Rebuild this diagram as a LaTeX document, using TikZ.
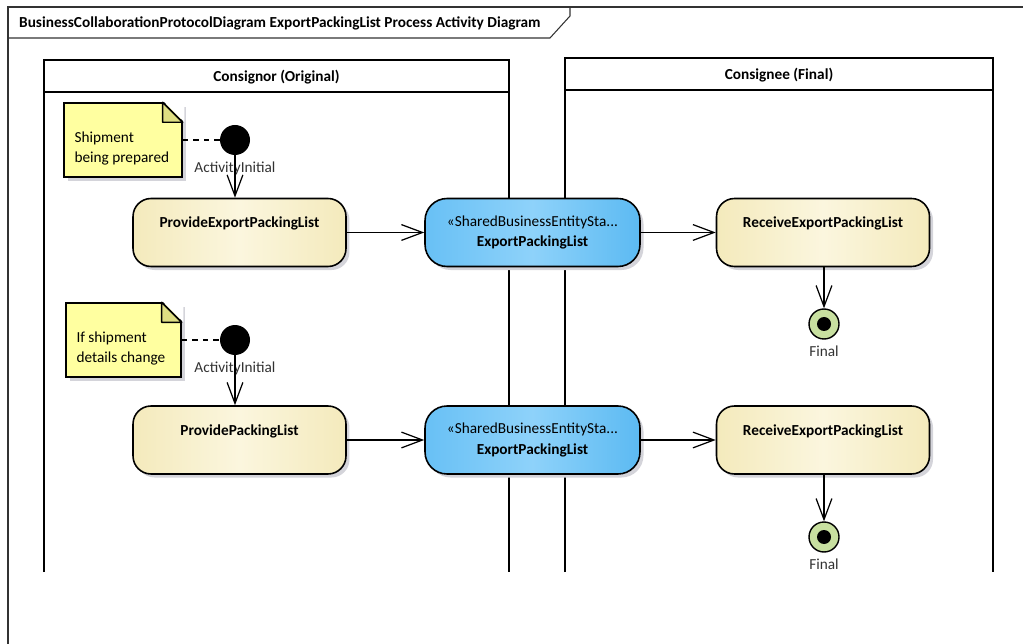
\documentclass[tikz,border=0pt]{standalone}
\usepackage{fontspec}
\setmainfont{Carlito}
\usetikzlibrary{arrows.meta,shadows}
\definecolor{notebg}{RGB}{255,255,160}
\definecolor{notefold}{RGB}{222,222,130}
\definecolor{actside}{RGB}{244,234,188}
\definecolor{actmid}{RGB}{251,246,222}
\definecolor{objleft}{RGB}{104,192,245}
\definecolor{objmid}{RGB}{142,210,250}
\definecolor{objright}{RGB}{92,186,242}
\definecolor{finalgreen}{RGB}{200,224,160}
\definecolor{shadowgray}{RGB}{212,212,218}
\definecolor{labelgray}{RGB}{50,50,50}
\newcommand{\dgfont}{\fontsize{8.7}{11.6}\selectfont}

\begin{document}
\begin{tikzpicture}[x=0.02cm,y=-0.02cm,font=\dgfont,
    frame/.style={draw=black!80,line width=0.6pt},
    lane/.style={draw=black,line width=1.1pt},
    flow/.style={draw=black,line width=0.7pt,-{Straight Barb[length=12pt,width=9pt,line width=0.7pt]}},
    shad/.style={drop shadow={shadow xshift=2pt,shadow yshift=-2pt,fill=shadowgray,opacity=1}},
    action/.style={rectangle,rounded corners=0.36cm,draw=black,line width=0.9pt,shad,
        minimum width=4.26cm,minimum height=1.36cm,
        left color=actside,right color=actside,middle color=actmid},
    obj/.style={rectangle,rounded corners=0.44cm,draw=black,line width=0.9pt,shad,align=center,
        minimum width=4.3cm,minimum height=1.36cm,
        left color=objleft,right color=objright,middle color=objmid},
    note/.style={rectangle,fill=notebg,draw=black,line width=0.8pt,shad,minimum height=1.48cm},
    initial/.style={circle,fill=black,minimum size=0.6cm,inner sep=0pt,
        label={[text=labelgray,inner sep=1pt,label distance=2.5pt]below:ActivityInitial}},
    final/.style={circle,draw=black,line width=0.8pt,fill=finalgreen,minimum size=0.6cm,inner sep=0pt,
        path picture={\fill[black] (path picture bounding box.center) circle (0.14cm);},
        label={[text=labelgray,inner sep=2pt,label distance=1.5pt]below:Final}}]
    \useasboundingbox (0,0) rectangle (1023,644);
    % frame and title tab
    \draw[frame] (8,644) -- (8,7) -- (1023,7);
    \draw[frame] (8,38) -- (550,38) -- (570,16) -- (570,7);
    \node[anchor=west,font=\dgfont\bfseries] at (13,23) {BusinessCollaborationProtocolDiagram ExportPackingList Process Activity Diagram};
    % swimlanes
    \draw[lane] (44,572) -- (44,60) -- (509,60) -- (509,572);
    \draw[lane] (44,92) -- (509,92);
    \node[font=\dgfont\bfseries] at (276.5,77) {Consignor (Original)};
    \draw[lane] (565,572) -- (565,58) -- (993,58) -- (993,572);
    \draw[lane] (565,90) -- (993,90);
    \node[font=\dgfont\bfseries] at (779,75) {Consignee (Final)};
    % first flow
    \node (note1) [note,minimum width=2.36cm,
        label={[anchor=west,align=left,xshift=0.1cm,yshift=-0.17cm]west:Shipment\\being prepared}] at (123,140) {};
    \fill[white] ([xshift=-0.4cm,yshift=1pt]note1.north east) -- ([xshift=1pt,yshift=1pt]note1.north east) -- ([xshift=1pt,yshift=-0.4cm]note1.north east) -- cycle;
    \filldraw[fill=notefold,draw=black,line width=0.8pt,line join=round] ([xshift=-0.4cm]note1.north east) -- ([xshift=-0.4cm,yshift=-0.4cm]note1.north east) -- ([yshift=-0.4cm]note1.north east) -- cycle;
    \draw[line width=0.8pt] ([xshift=-0.4cm]note1.north east) -- ([yshift=-0.4cm]note1.north east);
    \node (ini1) [initial] at (235,140) {};
    \node (pel) [action,label={[anchor=center,yshift=-0.52cm,font=\dgfont\bfseries]north:ProvideExportPackingList}] at (239.5,232.5) {};
    \node (obj1) [obj] at (532.5,232.5) {«SharedBusinessEntitySta...\\\textbf{ExportPackingList}};
    \node (rec1) [action,label={[anchor=center,yshift=-0.52cm,font=\dgfont\bfseries]north:ReceiveExportPackingList}] at (823,232.5) {};
    \node (fin1) [final] at (824,324) {};
    \draw[dashed,line width=0.7pt] (note1) -- (ini1);
    \draw[flow] (ini1) -- (ini1 |- pel.north);
    \draw[flow] (pel) -- (obj1);
    \draw[flow] (obj1) -- (rec1);
    \draw[flow] (rec1.south -| fin1) -- (fin1);
    % second flow
    \node (note2) [note,minimum width=2.3cm,
        label={[anchor=west,align=left,xshift=0.1cm,yshift=-0.17cm]west:If shipment\\details change}] at (123.5,340) {};
    \fill[white] ([xshift=-0.4cm,yshift=1pt]note2.north east) -- ([xshift=1pt,yshift=1pt]note2.north east) -- ([xshift=1pt,yshift=-0.4cm]note2.north east) -- cycle;
    \filldraw[fill=notefold,draw=black,line width=0.8pt,line join=round] ([xshift=-0.4cm]note2.north east) -- ([xshift=-0.4cm,yshift=-0.4cm]note2.north east) -- ([yshift=-0.4cm]note2.north east) -- cycle;
    \draw[line width=0.8pt] ([xshift=-0.4cm]note2.north east) -- ([yshift=-0.4cm]note2.north east);
    \node (ini2) [initial] at (235,340) {};
    \node (ppl) [action,label={[anchor=center,yshift=-0.52cm,font=\dgfont\bfseries]north:ProvidePackingList}] at (239.5,440) {};
    \node (obj2) [obj] at (532.5,440) {«SharedBusinessEntitySta...\\\textbf{ExportPackingList}};
    \node (rec2) [action,label={[anchor=center,yshift=-0.52cm,font=\dgfont\bfseries]north:ReceiveExportPackingList}] at (823,440) {};
    \node (fin2) [final] at (824,537) {};
    \draw[dashed,line width=0.7pt] (note2) -- (ini2);
    \draw[flow] (ini2) -- (ini2 |- ppl.north);
    \draw[flow] (ppl) -- (obj2);
    \draw[flow] (obj2) -- (rec2);
    \draw[flow] (rec2.south -| fin2) -- (fin2);
\end{tikzpicture}
\end{document}
